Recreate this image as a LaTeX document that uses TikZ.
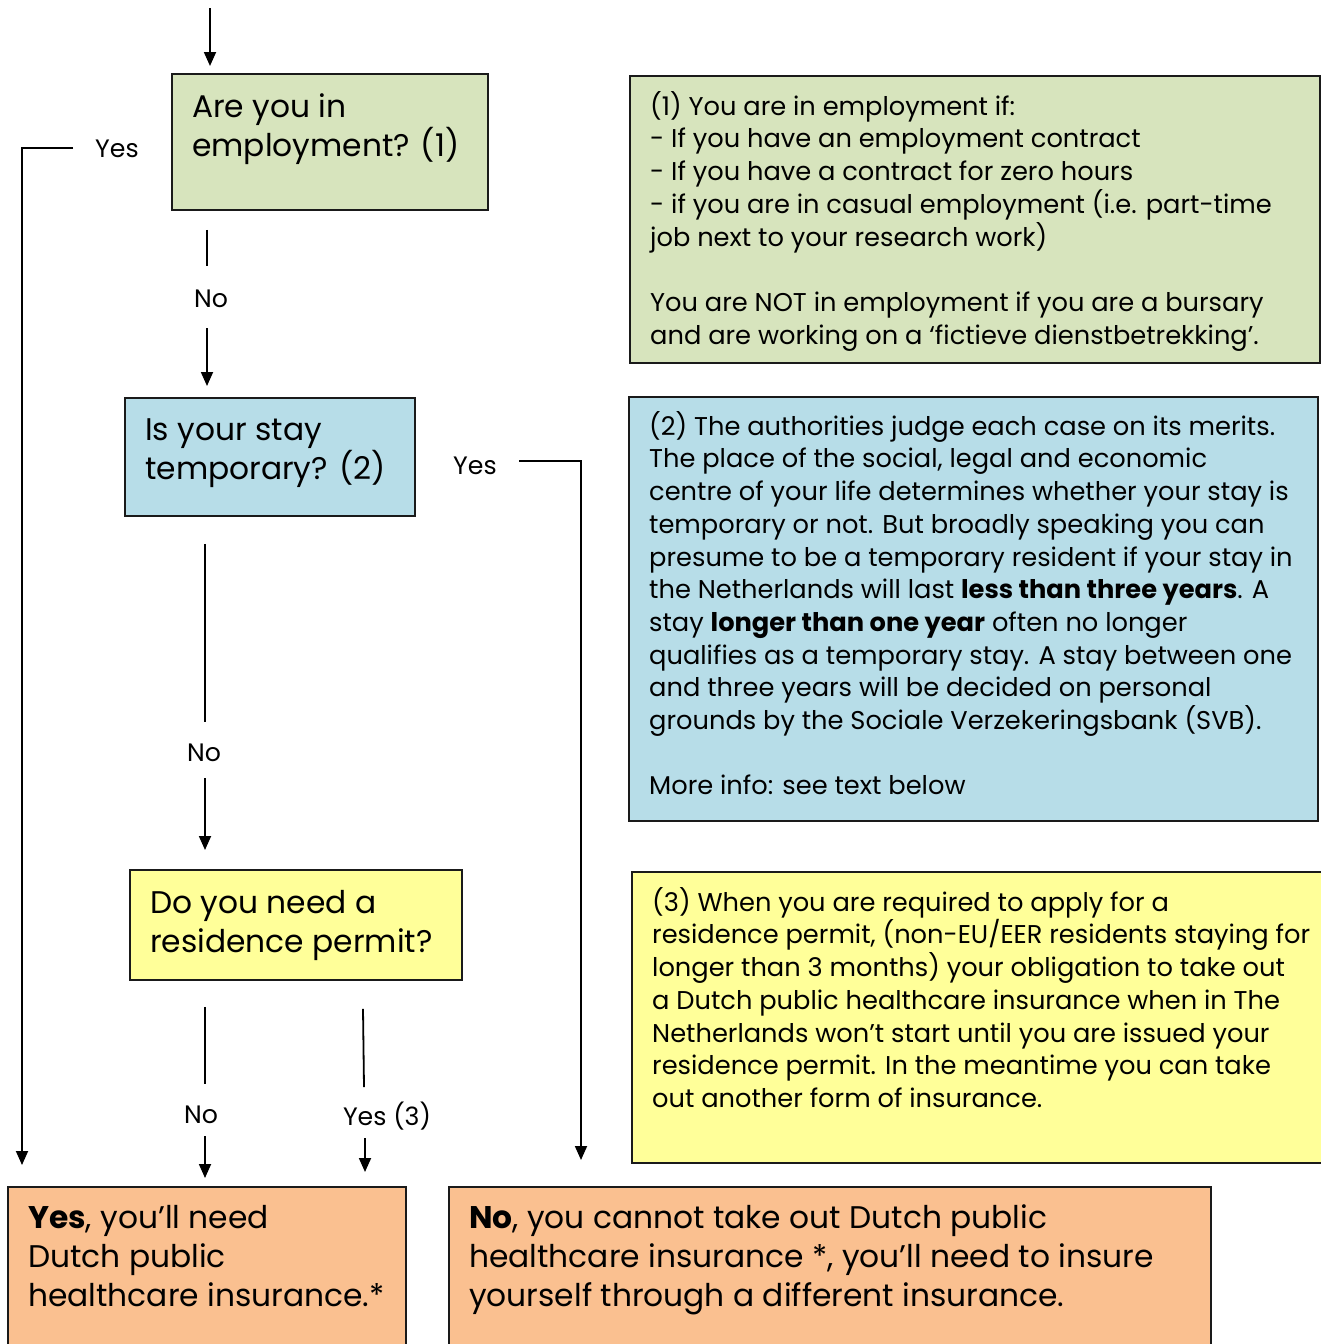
\documentclass[tikz,border=0pt]{standalone}
\usepackage{fontspec}
\setmainfont{Poppins}
\usetikzlibrary{arrows.meta,calc}
\definecolor{qgreen}{HTML}{D7E4BD}
\definecolor{qblue}{HTML}{B7DDE8}
\definecolor{qyellow}{HTML}{FFFF99}
\definecolor{qorange}{HTML}{FAC090}
\definecolor{edge}{HTML}{1A1A1A}
\newcommand\stS{\rule{0pt}{23pt}}
\newcommand\stB{\rule{0pt}{28pt}}
\tikzset{
  box/.style={draw=edge, line width=1.8pt, anchor=north west, inner sep=0pt},
  smalltxt/.style={anchor=north west, inner sep=0pt, align=left, font=\fontsize{25.7}{32.7}\selectfont},
  bigtxt/.style={anchor=north west, inner sep=0pt, align=left, font=\fontsize{31.3}{39}\selectfont},
  lbl/.style={inner sep=0pt, font=\fontsize{25.2}{32.7}\selectfont},
  conn/.style={line width=1.8pt, draw=black},
  arr/.style={conn, -{Triangle[length=14pt,width=12pt]}}
}
\begin{document}
\begin{tikzpicture}[x=1pt,y=-1pt]
\useasboundingbox (0,0) rectangle (1321,1344);
% boxes
\node[box, fill=qgreen, minimum width=316pt, minimum height=136pt] (q1) at (171,73) {};
\node[box, fill=qblue, minimum width=290pt, minimum height=118pt] (q2) at (124,397) {};
\node[box, fill=qyellow, minimum width=332pt, minimum height=110pt] (q3) at (129,869) {};
\node[box, fill=qorange, minimum width=398pt, minimum height=190pt] (ya) at (7,1186) {};
\node[box, fill=qorange, minimum width=762pt, minimum height=190pt] (nb) at (448,1186) {};
\node[box, fill=qgreen, minimum width=690pt, minimum height=287pt] (n1) at (629,75) {};
\node[box, fill=qblue, minimum width=689pt, minimum height=424pt] (n2) at (628,396) {};
\node[box, fill=qyellow, minimum width=710pt, minimum height=291pt] (n3) at (631,871) {};
% box texts
\node[bigtxt] (q1t) at (192,117-28) {\stB Are you in\\employment? (1)};
\node[bigtxt] (q2t) at (145,440-28) {\stB Is your stay\\temporary? (2)};
\node[bigtxt] (q3t) at (150,913-28) {\stB Do you need a\\residence permit?};
\node[bigtxt] (yat) at (28,1228-28) {\stB\textbf{Yes}, you’ll need\\Dutch public\\healthcare insurance.*};
\node[bigtxt] (nbt) at (469,1228-28) {\stB\textbf{No}, you cannot take out Dutch public\\healthcare insurance *, you’ll need to insure\\yourself through a different insurance.};
\node[smalltxt] (n1t) at (650,114-23) {\stS(1) You are in employment if:\\
- If you have an employment contract\\
- If you have a contract for zero hours\\
- if you are in casual employment (i.e. part-time\\
job next to your research work)\\
{}\\
You are NOT in employment if you are a bursary\\
and are working on a ‘fictieve dienstbetrekking’.};
\node[smalltxt] (n2t) at (649,434-23) {\stS(2) The authorities judge each case on its merits.\\
The place of the social, legal and economic\\
centre of your life determines whether your stay is\\
temporary or not. But broadly speaking you can\\
presume to be a temporary resident if your stay in\\
the Netherlands will last \textbf{less than three years}. A\\
stay \textbf{longer than one year} often no longer\\
qualifies as a temporary stay. A stay between one\\
and three years will be decided on personal\\
grounds by the Sociale Verzekeringsbank (SVB).\\
{}\\
More info: see text below};
\node[smalltxt] (n3t) at (652,910-23) {\stS(3) When you are required to apply for a\\
residence permit, (non-EU/EER residents staying for\\
longer than 3 months) your obligation to take out\\
a Dutch public healthcare insurance when in The\\
Netherlands won’t start until you are issued your\\
residence permit. In the meantime you can take\\
out another form of insurance.};
% labels
\node[lbl, anchor=base west] (yes1) at (95,157) {Yes};
\node[lbl, anchor=base] (no1) at (211,307) {No};
\node[lbl, anchor=base west] (yes2) at (453,474) {Yes};
\node[lbl, anchor=base] (no2) at (204,761) {No};
\node[lbl, anchor=base] (no3) at (201,1123) {No};
\node[lbl, anchor=base] (yes3) at (387,1125) {Yes (3)};
% connectors
\coordinate (start) at (210,8);
\draw[arr] (start) -- ($(q1.north west)+(39,-7)$);
\draw[arr] ($(yes1.base west)+(-22,-9)$) -| ($(ya.north west)+(15,-21)$);
\draw[conn] ($(q1.south west)+(36,19)$) -- ($(no1.base)+(-4,-41)$);
\draw[arr] ($(no1.base)+(-4,21)$) -- ($(q2.north west)+(83,-11)$);
\draw[arr] ($(yes2.base west)+(66,-13)$) -| ($(nb.north west)+(133,-26)$);
\draw[conn] ($(q2.south west)+(81,27)$) -- ($(no2.base)+(1,-39)$);
\draw[arr] ($(no2.base)+(1,17)$) -- ($(q3.north west)+(76,-19)$);
\draw[conn] ($(q3.south west)+(76,26)$) -- ($(no3.base)+(4,-39)$);
\draw[arr] ($(no3.base)+(4,13)$) -- ($(ya.north west)+(198,-8)$);
\draw[conn] ($(q3.south west)+(234,28)$) -- ($(yes3.base)+(-23,-38)$);
\draw[arr] ($(yes3.base)+(-22,13)$) -- ($(ya.north west)+(358,-14)$);
\end{tikzpicture}
\end{document}
